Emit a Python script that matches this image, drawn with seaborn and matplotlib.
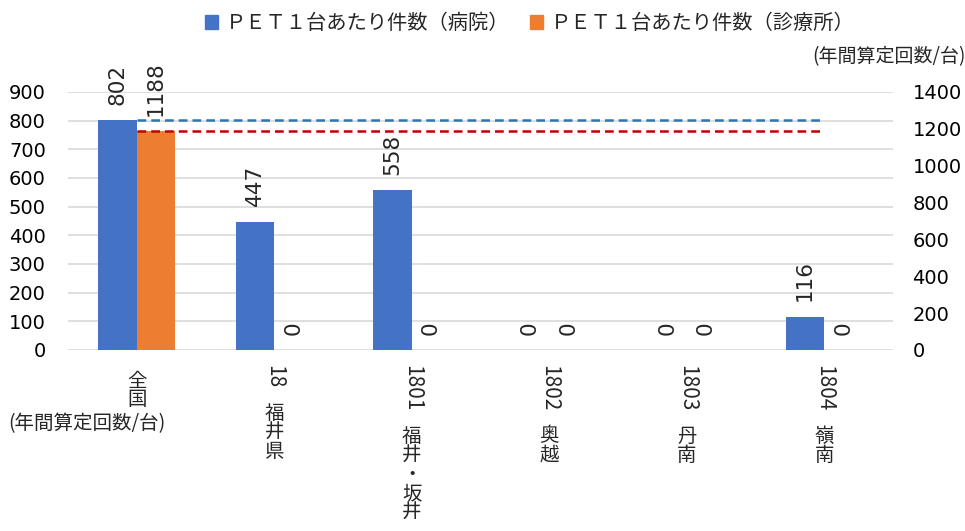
import pandas as pd
import matplotlib

matplotlib.use('Agg')
import matplotlib.pyplot as plt
from matplotlib.patches import Patch
import seaborn as sns

# data
codes = ['全国', '18', '1801', '1802', '1803', '1804']
areas = ['全国', '福井県', '福井・坂井', '奥越', '丹南', '嶺南']
hospital = [802, 447, 558, 0, 0, 116]
clinic = [1188, 0, 0, 0, 0, 0]
series = ['ＰＥＴ１台あたり件数（病院）', 'ＰＥＴ１台あたり件数（診療所）']
left_ticks = list(range(0, 1000, 100))
right_ticks = list(range(0, 1600, 200))
unit = '(年間算定回数/台)'

blue = '#4472C4'
orange = '#ED7D31'
jp = 'Noto Sans CJK JP'

sns.set_style('white')
plt.rcParams['font.family'] = ['DejaVu Sans', jp]

df = pd.DataFrame({
    'code': codes * 2,
    'kind': [series[0]] * len(codes) + [series[1]] * len(codes),
    'value': hospital + clinic,
})

fig = plt.figure(figsize=(9.65, 5.31), dpi=100)
ax = fig.add_axes([0.0705, 0.341, 0.855, 0.486])
ax2 = ax.twinx()

for a, name in ((ax, series[0]), (ax2, series[1])):
    sns.barplot(data=df[df.kind == name], x='code', y='value', hue='kind',
                order=codes, hue_order=series, palette=[blue, orange],
                width=0.56, dodge=True, saturation=1, linewidth=0,
                legend=False, ax=a, zorder=2)

ax.set_ylim(0, 900)
ax2.set_ylim(0, 1400)
ax.set_yticks(left_ticks)
ax2.set_yticks(right_ticks)
ax.set_xlim(-0.5, len(codes) - 0.5)
ax.grid(axis='y', color='#d9d9d9', linewidth=1.2, zorder=0)
ax2.grid(False)
for a in (ax, ax2):
    a.set_xlabel('')
    a.set_ylabel('')
    for s in a.spines.values():
        s.set_visible(False)
    a.tick_params(length=0, labelsize=14, colors='black')
ax.tick_params(axis='y', pad=16)
ax2.tick_params(axis='y', labelsize=14, pad=14)
ax.set_xticks(range(len(codes)))
ax.set_xticklabels([''] * len(codes))

# reference lines for 全国
n = len(codes)
ax.hlines(hospital[0], 0, n - 1, colors='#2E75B6', linestyles=(0, (3.5, 2)),
          linewidth=1.8, zorder=5)
ax2.hlines(clinic[0], 0, n - 1, colors='#C00000', linestyles=(0, (3.5, 2)),
           linewidth=1.8, zorder=5)

# value labels
for a in (ax, ax2):
    for c in a.containers:
        a.bar_label(c, fmt='%d', rotation=90, padding=11, fontsize=15.5)

# category labels: code rotated, area name stacked vertically
tr = ax.get_xaxis_transform()
for i, (code, area) in enumerate(zip(codes, areas)):
    stacked = '\n'.join(area)
    if code == area:
        ax.text(i, -0.08, stacked, transform=tr, ha='center', va='top',
                fontsize=14, family=jp, linespacing=0.85)
        continue
    t = ax.text(i, -0.06, code, transform=tr, rotation=270, ha='center',
                va='top', fontsize=15, family=jp)
    ax.annotate(stacked, xy=(0.5, 0), xycoords=t, xytext=(0, -10),
                textcoords='offset points', ha='center', va='top',
                fontsize=14, family=jp, linespacing=0.88)

fig.text(0.09, 0.203, unit, ha='center', va='center', fontsize=14, family=jp)
fig.text(0.921, 0.893, unit, ha='center', va='center', fontsize=13.7, family=jp)

handles = [Patch(color=blue), Patch(color=orange)]
fig.legend(handles, series, loc='upper center', bbox_to_anchor=(0.549, 1.01),
           ncol=2, frameon=False, prop={'family': jp, 'size': 14.6},
           handlelength=0.65, handleheight=0.65, handletextpad=0.4,
           columnspacing=1.0)

fig.savefig('out.png', dpi=100)
